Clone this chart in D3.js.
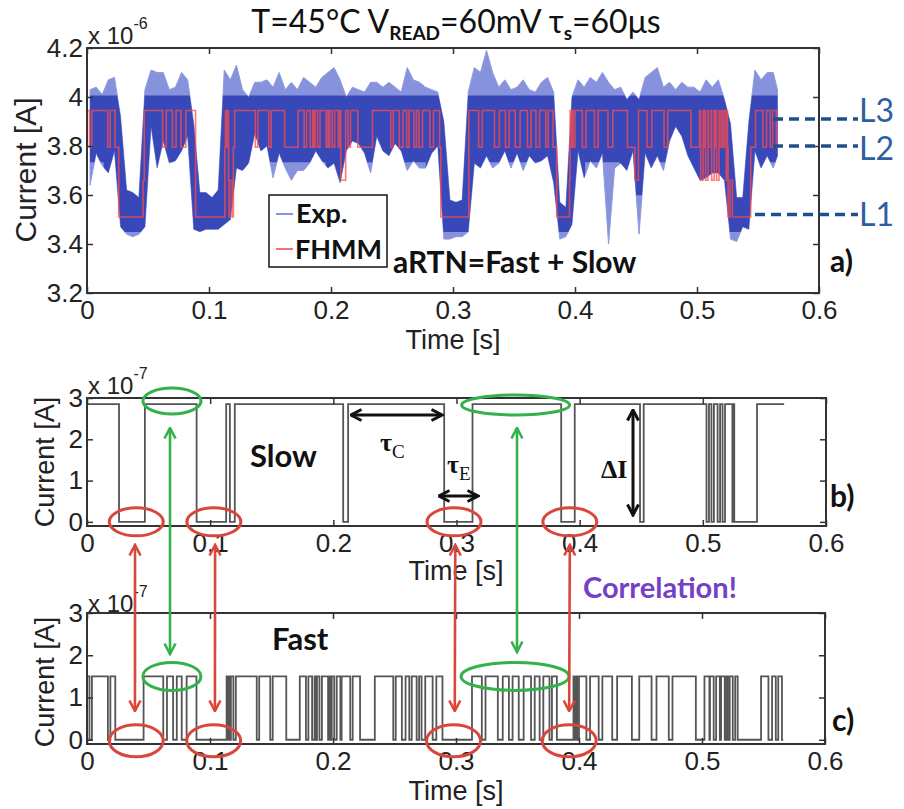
<!DOCTYPE html>
<html lang="en">
<head>
<meta charset="utf-8">
<title>aRTN = Fast + Slow</title>
<script src="https://cdnjs.cloudflare.com/ajax/libs/d3/7.8.5/d3.min.js"></script>
<style>
  body { margin: 0; background: #fff; }
  .tick text { font-family: "Liberation Sans", Arial, sans-serif; font-size: 26px; fill: #222; }
  .tick line { stroke: #333; stroke-width: 1.5; }
  .frame { fill: none; stroke: #333; stroke-width: 2; }
  .lbl { font-family: "Liberation Sans", Arial, sans-serif; fill: #222; }
  .cal { font-family: Lato, "Noto Sans", sans-serif; fill: #111; }
</style>
</head>
<body>
<div class="chart"></div>
<script>
var svgWidth = 904;
var svgHeight = 809;

// ---------------- data ----------------
var timeTicks = [0, 0.1, 0.2, 0.3, 0.4, 0.5, 0.6];
var ticksA = [3.2, 3.4, 3.6, 3.8, 4, 4.2];      // x 1e-6 A
var ticksBC = [0, 1, 2, 3];                       // x 1e-7 A

// measured current, per 5 ms bin: max / min of the noisy trace (x 1e-6 A)
var binWidth = 0.005;
var expHigh = [4.03, 4.04, 4.01, 4.07, 4.08, 3.92, 3.62, 3.61, 3.59, 4.03,
               4.11, 4.10, 4.10, 4.03, 4.04, 4.10, 4.07, 3.89, 3.61, 3.61,
               3.59, 3.62, 4.11, 4.07, 4.13, 4.03, 4.00, 4.06, 4.06, 4.07,
               4.04, 4.10, 4.03, 4.06, 4.03, 4.08, 4.06, 4.04, 4.08, 4.10,
               4.12, 4.07, 4.00, 4.04, 4.03, 4.02, 4.06, 4.06, 4.04, 4.06,
               4.04, 4.02, 4.12, 4.07, 4.06, 4.04, 4.03, 4.02, 3.90, 3.58,
               3.57, 3.58, 4.02, 4.12, 4.10, 4.19, 4.10, 4.04, 4.07, 4.03,
               4.04, 4.07, 4.03, 4.02, 4.06, 4.08, 4.02, 3.57, 3.55, 4.00,
               4.07, 4.04, 4.08, 4.06, 4.10, 4.06, 4.03, 4.04, 3.99, 4.02,
               3.99, 4.08, 4.10, 4.12, 4.04, 4.06, 4.03, 4.06, 4.04, 4.04,
               4.02, 4.07, 4.04, 4.07, 3.99, 3.89, 3.59, 3.59, 3.90, 4.11,
               4.07, 4.10, 4.10, 4.03];
var expLow  = [3.64, 3.77, 3.72, 3.69, 3.78, 3.47, 3.44, 3.43, 3.44, 3.47,
               3.88, 3.71, 3.82, 3.73, 3.74, 3.78, 3.84, 3.46, 3.45, 3.46,
               3.46, 3.46, 3.48, 3.50, 3.71, 3.70, 3.73, 3.85, 3.78, 3.80,
               3.67, 3.77, 3.71, 3.66, 3.70, 3.70, 3.73, 3.78, 3.74, 3.71,
               3.73, 3.65, 3.78, 3.82, 3.81, 3.77, 3.69, 3.84, 3.78, 3.76,
               3.81, 3.78, 3.70, 3.74, 3.71, 3.71, 3.77, 3.80, 3.42, 3.42,
               3.43, 3.43, 3.45, 3.73, 3.71, 3.76, 3.71, 3.73, 3.78, 3.71,
               3.77, 3.70, 3.76, 3.73, 3.74, 3.76, 3.65, 3.42, 3.43, 3.48,
               3.78, 3.67, 3.74, 3.71, 3.77, 3.40, 3.71, 3.73, 3.70, 3.78,
               3.44, 3.77, 3.71, 3.76, 3.70, 3.82, 3.88, 3.84, 3.76, 3.71,
               3.66, 3.67, 3.69, 3.69, 3.66, 3.42, 3.41, 3.47, 3.46, 3.78,
               3.71, 3.76, 3.71, 3.76];

// slow trap: intervals [start, end] (s) spent in the low state
var slowLow = [[0.026, 0.047], [0.089, 0.113], [0.116, 0.120], [0.208, 0.212],
               [0.290, 0.313], [0.385, 0.396], [0.449, 0.452], [0.503, 0.505],
               [0.507, 0.509], [0.512, 0.514], [0.516, 0.518], [0.524, 0.5245],
               [0.5255, 0.544]];

// fast trap: intervals [start, end] (s) spent in the high state
var fastHigh = [[0.000, 0.002], [0.004, 0.017], [0.019, 0.023],
                [0.046, 0.062], [0.065, 0.070], [0.073, 0.077], [0.081, 0.089],
                [0.1135, 0.1145], [0.1155, 0.1165], [0.117, 0.119], [0.121, 0.138],
                [0.140, 0.149], [0.151, 0.162], [0.173, 0.178], [0.180, 0.183],
                [0.185, 0.186], [0.187, 0.189], [0.191, 0.196], [0.1975, 0.1985],
                [0.199, 0.201], [0.203, 0.206], [0.207, 0.214], [0.216, 0.222],
                [0.234, 0.249], [0.251, 0.256], [0.259, 0.262], [0.264, 0.268],
                [0.270, 0.272], [0.275, 0.281], [0.284, 0.289],
                [0.313, 0.321], [0.324, 0.334], [0.338, 0.343], [0.346, 0.351],
                [0.355, 0.361], [0.364, 0.368], [0.371, 0.376], [0.378, 0.382],
                [0.3955, 0.3965], [0.3975, 0.3985], [0.400, 0.406], [0.409, 0.416],
                [0.419, 0.427], [0.431, 0.443], [0.449, 0.459], [0.463, 0.473],
                [0.476, 0.495], [0.502, 0.506], [0.5065, 0.5095], [0.5115, 0.5145],
                [0.5155, 0.5185], [0.520, 0.521], [0.5225, 0.525], [0.527, 0.529],
                [0.548, 0.554], [0.557, 0.560], [0.562, 0.565]];
var traceEnd = 0.566;

var baseCurrent = 3.51;  // x 1e-6 A  (level L1)
var slowDelta = 2.85;    // x 1e-7 A
var fastDelta = 1.5;     // x 1e-7 A

var levelNames = ["L1", "L2", "L3"];
var levelMarks = [3.52, 3.80, 3.91];  // where the dashed markers sit

// ---------------- helpers ----------------
function inside(list, t) {
  return list.some(function (p) { return t >= p[0] && t < p[1]; });
}
function cutTimes(lists) {
  var ts = [0];
  lists.forEach(function (l) { l.forEach(function (p) { ts.push(p[0], p[1]); }); });
  ts = Array.from(new Set(ts)).filter(function (t) { return t < traceEnd; }).sort(d3.ascending);
  ts.push(traceEnd);
  return ts;
}
function slowVal(t) { return inside(slowLow, t) ? 0 : slowDelta; }
function fastVal(t) { return inside(fastHigh, t) ? fastDelta : 0; }

var svg = d3.select(".chart")
  .append("svg")
  .attr("width", svgWidth)
  .attr("height", svgHeight);

var defs = svg.append("defs");
function marker(id, color, w) {
  defs.append("marker")
    .attr("id", id)
    .attr("viewBox", "0 0 14 14")
    .attr("refX", 12.5).attr("refY", 7)
    .attr("markerWidth", 14).attr("markerHeight", 14)
    .attr("markerUnits", "userSpaceOnUse")
    .attr("orient", "auto-start-reverse")
    .append("path")
    .attr("d", "M2,1.5 L12.5,7 L2,12.5")
    .attr("fill", "none")
    .attr("stroke", color)
    .attr("stroke-width", w);
}
var red = "#d9473c", green = "#33b24c";
marker("hRed", red, 2.6);
marker("hGreen", green, 2.6);
marker("hBlack", "#111", 3);

// ---------------- scales ----------------
var xA = d3.scaleLinear().domain([0, 0.6]).range([87, 819]);
var yA = d3.scaleLinear().domain([3.2, 4.2]).range([293, 48]);
var xB = d3.scaleLinear().domain([0, 0.6]).range([87, 826]);
var yB = d3.scaleLinear().domain([-0.1, 3]).range([526, 398]);
var xC = d3.scaleLinear().domain([0, 0.6]).range([87, 825]);
var yC = d3.scaleLinear().domain([-0.1, 3]).range([744, 613]);

function frame(x, y, yTicks) {
  var g = svg.append("g");
  var xr = x.range(), yr = y.range();
  var fmt = d3.format("~g");
  g.append("g").attr("transform", `translate(0,${yr[0]})`)
    .call(d3.axisBottom(x).tickValues(timeTicks).tickSize(-6).tickPadding(8).tickFormat(fmt))
    .call(function (s) { s.select(".domain").remove(); });
  g.append("g").attr("transform", `translate(0,${yr[1]})`)
    .call(d3.axisTop(x).tickValues(timeTicks).tickSize(-6).tickFormat(""))
    .call(function (s) { s.select(".domain").remove(); });
  g.append("g").attr("transform", `translate(${xr[0]},0)`)
    .call(d3.axisLeft(y).tickValues(yTicks).tickSize(-6).tickPadding(4).tickFormat(fmt))
    .call(function (s) { s.select(".domain").remove(); });
  g.append("g").attr("transform", `translate(${xr[1]},0)`)
    .call(d3.axisRight(y).tickValues(yTicks).tickSize(-6).tickFormat(""))
    .call(function (s) { s.select(".domain").remove(); });
  g.append("rect").attr("class", "frame")
    .attr("x", xr[0]).attr("y", yr[1])
    .attr("width", xr[1] - xr[0]).attr("height", yr[0] - yr[1]);
  return g;
}

function expLabel(x, y, e) {
  var t = svg.append("text").attr("class", "lbl").attr("x", x).attr("y", y).style("font-size", "24px");
  t.append("tspan").text("x 10");
  t.append("tspan").attr("dy", -15).style("font-size", "16px").text(e);
}
function yLabel(cx, cy, size) {
  svg.append("text").attr("class", "lbl")
    .attr("transform", `translate(${cx},${cy}) rotate(-90)`)
    .attr("text-anchor", "middle").attr("dy", "0.35em")
    .style("font-size", size + "px").text("Current [A]");
}
function xLabel(cx, cy) {
  svg.append("text").attr("class", "lbl")
    .attr("x", cx).attr("y", cy).attr("text-anchor", "middle")
    .style("font-size", "27px").text("Time [s]");
}

// ---------------- title ----------------
var title = svg.append("text").attr("class", "cal")
  .attr("x", 456).attr("y", 33).attr("text-anchor", "middle")
  .style("font-size", "32px");
title.append("tspan").text("T=45°C V");
title.append("tspan").attr("dy", 7).style("font-size", "19px").style("font-weight", 700).text("READ");
title.append("tspan").attr("dy", -7).text("=60mV τ");
title.append("tspan").attr("dy", 7).style("font-size", "19px").style("font-weight", 700).text("s");
title.append("tspan").attr("dy", -7).text("=60μs");

// ---------------- panel a ----------------
var expData = expHigh.map(function (h, i) {
  return { t: Math.min(i * binWidth + binWidth / 2, traceEnd), hi: h, lo: expLow[i] };
});
var fhmm = cutTimes([slowLow, fastHigh]).map(function (t) {
  return { t: t, v: baseCurrent + slowVal(t) / 10 + fastVal(t) / 10 };
});
var envArea = d3.area().x(function (d) { return xA(d.t); })
  .y0(function (d) { return yA(d.lo); }).y1(function (d) { return yA(d.hi); });
var stepLineA = d3.line().curve(d3.curveStepAfter)
  .x(function (d) { return xA(d.t); }).y(function (d) { return yA(d.v); });

defs.append("clipPath").attr("id", "envClip")
  .append("path").datum(expData).attr("d", envArea);

var plotA = svg.append("g");
// outer envelope of the noisy trace
plotA.append("path")
  .datum(expData)
  .attr("fill", "#5869cf").attr("fill-opacity", 0.72)
  .attr("stroke", "#8f9ae2").attr("stroke-width", 1)
  .attr("d", envArea);
// dense core of the trace, following the switching levels
plotA.append("path")
  .datum(fhmm)
  .attr("clip-path", "url(#envClip)")
  .attr("fill", "none").attr("stroke", "#3040b4").attr("stroke-width", 30)
  .attr("stroke-opacity", 0.9)
  .attr("d", stepLineA);
// FHMM fit
plotA.append("path")
  .datum(fhmm)
  .attr("fill", "none").attr("stroke", "#ff4b4b").attr("stroke-opacity", 0.75).attr("stroke-width", 1.6)
  .attr("d", stepLineA);

frame(xA, yA, ticksA);
expLabel(88, 44, "-6");
yLabel(25, 170, 30);
xLabel(453, 349);

// legend
var leg = svg.append("g");
leg.append("rect").attr("x", 269).attr("y", 195).attr("width", 118).attr("height", 72)
  .attr("fill", "#fff").attr("stroke", "#222").attr("stroke-width", 1.6);
leg.append("line").attr("x1", 276).attr("x2", 293).attr("y1", 214).attr("y2", 214)
  .attr("stroke", "#8593e4").attr("stroke-width", 2);
leg.append("line").attr("x1", 276).attr("x2", 293).attr("y1", 249).attr("y2", 249)
  .attr("stroke", "#f27474").attr("stroke-width", 2);
leg.append("text").attr("class", "cal").attr("x", 296).attr("y", 223)
  .style("font-size", "27px").style("font-weight", 700).text("Exp.");
leg.append("text").attr("class", "cal").attr("x", 295).attr("y", 259)
  .style("font-size", "27px").style("font-weight", 700).text("FHMM");

svg.append("text").attr("class", "cal").attr("x", 393).attr("y", 273)
  .style("font-size", "30px").style("font-weight", 700).text("aRTN=Fast + Slow");
svg.append("text").attr("class", "cal").attr("x", 830).attr("y", 272)
  .style("font-size", "30px").style("font-weight", 700).text("a)");

// level markers
var markStart = [755, 773, 773];
var markTextShift = [0, 2, -9];
levelMarks.forEach(function (v, i) {
  svg.append("line").attr("x1", markStart[i]).attr("x2", 858)
    .attr("y1", yA(v)).attr("y2", yA(v))
    .attr("stroke", "#1f4f8c").attr("stroke-width", 3.5).attr("stroke-dasharray", "10,6");
  svg.append("text").attr("class", "cal").attr("x", 859)
    .attr("y", yA(v) + markTextShift[i]).attr("dy", "0.36em")
    .style("font-size", "32px").style("fill", "#2e5f9e").text(levelNames[i]);
});

// ---------------- panel b ----------------
var slowSteps = cutTimes([slowLow]).map(function (t) { return { t: t, v: slowVal(t) }; });
svg.append("path")
  .datum(slowSteps)
  .attr("fill", "none").attr("stroke", "#555").attr("stroke-width", 1.8)
  .attr("d", d3.line().curve(d3.curveStepAfter)
    .x(function (d) { return xB(d.t); }).y(function (d) { return yB(d.v); }));
frame(xB, yB, ticksBC);
expLabel(88, 394, "-7");
yLabel(45, 462, 27);
svg.append("text").attr("class", "cal").attr("x", 250).attr("y", 467)
  .style("font-size", "31px").style("font-weight", 700).text("Slow");
svg.append("text").attr("class", "cal").attr("x", 830).attr("y", 507)
  .style("font-size", "30px").style("font-weight", 700).text("b)");

// ---------------- panel c ----------------
var fastSteps = cutTimes([fastHigh]).map(function (t) { return { t: t, v: fastVal(t) }; });
svg.append("path")
  .datum(fastSteps)
  .attr("fill", "none").attr("stroke", "#555").attr("stroke-width", 1.8)
  .attr("d", d3.line().curve(d3.curveStepAfter)
    .x(function (d) { return xC(d.t); }).y(function (d) { return yC(d.v); }));
frame(xC, yC, ticksBC);
expLabel(88, 612, "-7");
yLabel(45, 682, 27);
svg.append("text").attr("class", "cal").attr("x", 272).attr("y", 650)
  .style("font-size", "31px").style("font-weight", 700).text("Fast");
svg.append("text").attr("class", "cal").attr("x", 832).attr("y", 731)
  .style("font-size", "30px").style("font-weight", 700).text("c)");

xLabel(456, 580);
xLabel(456, 800);

// ---------------- annotations ----------------
var ann = svg.append("g");
function arrow(x1, y1, x2, y2, color, id, w) {
  ann.append("line").attr("x1", x1).attr("y1", y1).attr("x2", x2).attr("y2", y2)
    .attr("stroke", color).attr("stroke-width", w)
    .attr("marker-start", `url(#${id})`).attr("marker-end", `url(#${id})`);
}
function ellipse(cx, cy, rx, ry, color) {
  ann.append("ellipse").attr("cx", cx).attr("cy", cy).attr("rx", rx).attr("ry", ry)
    .attr("fill", "none").attr("stroke", color).attr("stroke-width", 3);
}

// red: both traps low; green: both traps high
var redT = [0.040, 0.103, 0.298, 0.392];
var redArrowT = [0.039, 0.104, 0.299, 0.392];
var greenT = [0.069, 0.348];
var greenR = [29, 54];

redT.forEach(function (t) {
  ellipse(xB(t), yB(0), 27, 14, red);
  ellipse(xC(t), yC(0) + 1, 27, 16, red);
});
greenT.forEach(function (t, i) {
  ellipse(xB(t), i ? 405 : 401, greenR[i], i ? 10 : 13, green);
  ellipse(xC(t), yC(fastDelta), greenR[i], 14, green);
});
redArrowT.forEach(function (t) {
  arrow(xB(t), 545, xC(t), 711, red, "hRed", 2.6);
});
arrow(170, 428, 170, 654, green, "hGreen", 2.6);
arrow(517, 428, 517, 652, green, "hGreen", 2.6);

// tau and delta I
arrow(351, 415, 442, 415, "#111", "hBlack", 3);
arrow(439, 496, 478, 496, "#111", "hBlack", 3);
arrow(633, 410, 633, 515, "#111", "hBlack", 3);

function greek(x, y, main, sub) {
  var t = ann.append("text").attr("x", x).attr("y", y)
    .style("font-family", "'Liberation Serif', 'DejaVu Serif', serif")
    .style("font-weight", 700).style("fill", "#111").style("font-size", "26px");
  t.append("tspan").text(main);
  if (sub) t.append("tspan").attr("dy", 7).style("font-size", "19px").style("font-weight", 400).text(sub);
}
greek(380, 451, "τ", "C");
greek(447, 473, "τ", "E");
greek(601, 478, "ΔI", "");

ann.append("text").attr("class", "cal").attr("x", 583).attr("y", 598)
  .style("font-size", "29px").style("font-weight", 700).style("fill", "#7440c4")
  .text("Correlation!");
</script>
</body>
</html>
